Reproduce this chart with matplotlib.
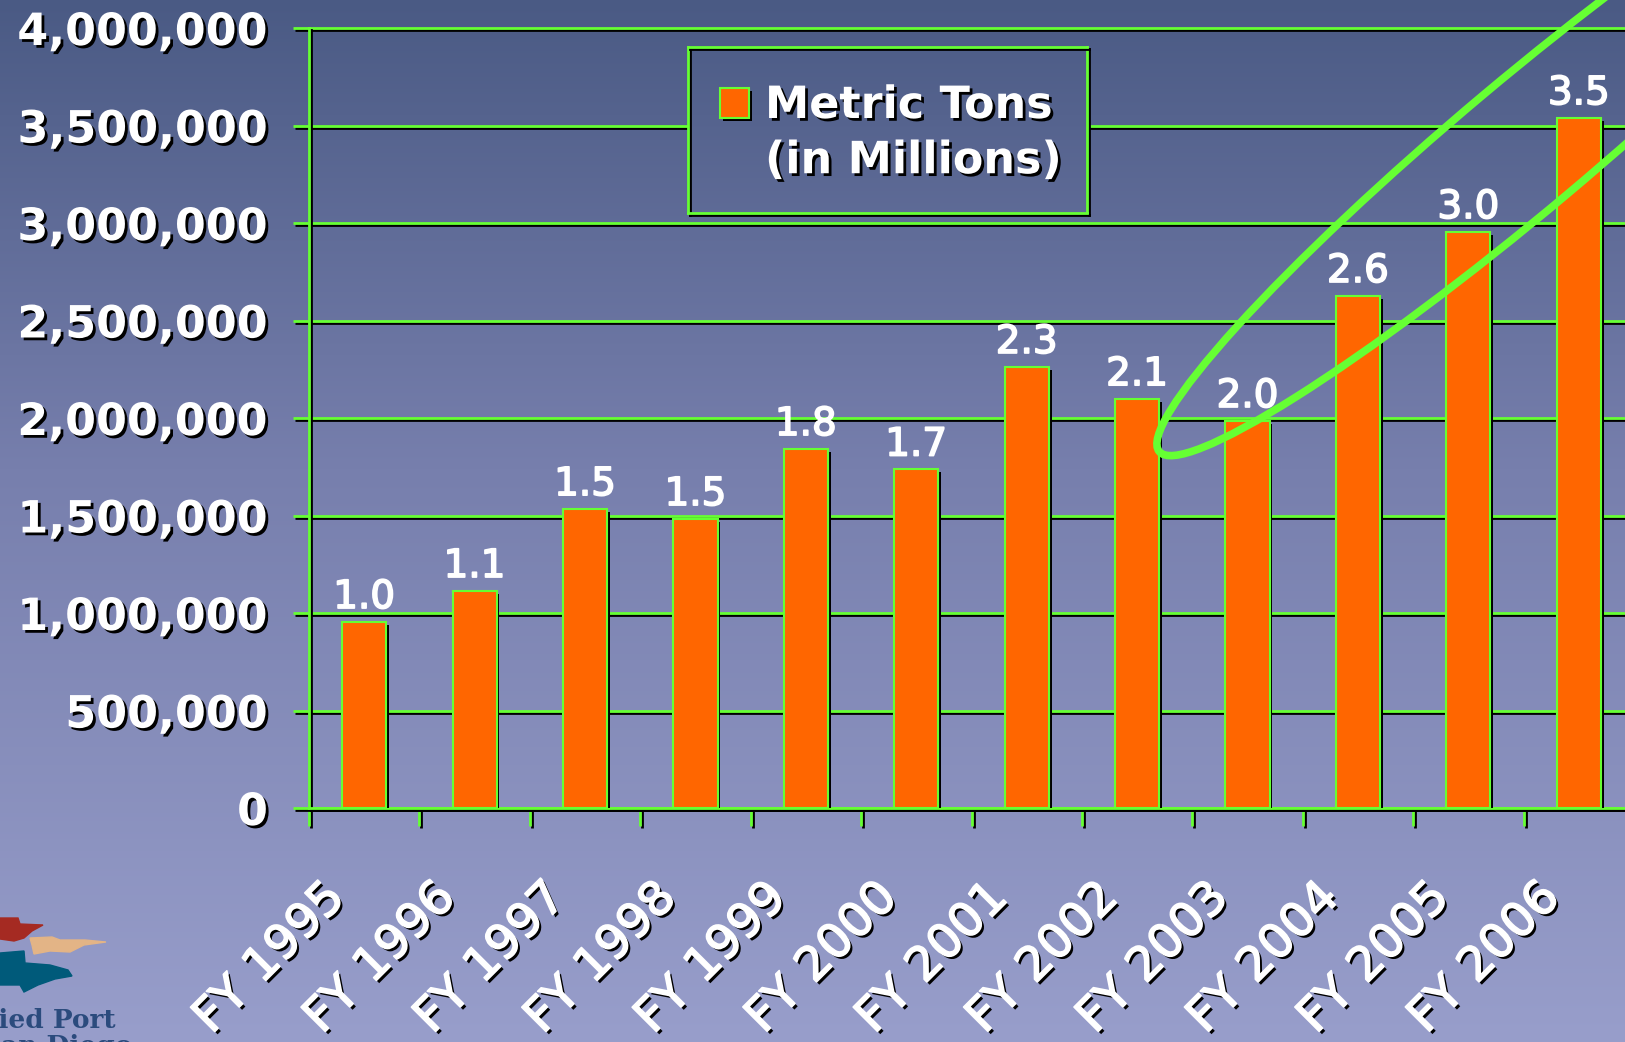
import numpy as np
import matplotlib
matplotlib.use("Agg")
import matplotlib.pyplot as plt
import matplotlib.patheffects as pe
import matplotlib.transforms as mtransforms
from matplotlib.patches import Ellipse, Rectangle, Polygon
from matplotlib.colors import to_rgb

# data
years = ["FY 1995", "FY 1996", "FY 1997", "FY 1998", "FY 1999", "FY 2000",
         "FY 2001", "FY 2002", "FY 2003", "FY 2004", "FY 2005", "FY 2006"]
tons = [954000, 1113000, 1533000, 1482000, 1841000, 1736000,
        2262000, 2097000, 1985000, 2626000, 2954000, 3538000]
value_labels = ["1.0", "1.1", "1.5", "1.5", "1.8", "1.7",
                "2.3", "2.1", "2.0", "2.6", "3.0", "3.5"]
yticks = [0, 500000, 1000000, 1500000, 2000000, 2500000, 3000000, 3500000, 4000000]
legend_label = "Metric Tons\n(in Millions)"

GREEN = "#66ff33"
ORANGE = "#ff6600"
W, H = 1625, 1042

grad_stops = [0.0, 0.45, 1.0]
grad_colors = ["#4a5a84", "#777fad", "#989ecb"]


def gradient(y0, y1):
    rows = np.arange(y0, y1) / H
    cols = np.array([to_rgb(c) for c in grad_colors])
    out = np.stack([np.interp(rows, grad_stops, cols[:, k]) for k in range(3)], axis=1)
    return out[:, None, :]


text_shadow = [pe.withSimplePatchShadow(offset=(2, -2), shadow_rgbFace="black", alpha=1.0)]
heavy_shadow = [pe.SimplePatchShadow(offset=(2, -2), shadow_rgbFace="black", alpha=1.0),
                pe.withStroke(linewidth=1.2, foreground="white")]
line_shadow = [pe.SimpleLineShadow(offset=(1.5, -1.5), shadow_color="black", alpha=1.0), pe.Normal()]

fig = plt.figure(figsize=(W / 100, H / 100), dpi=100)

bg = fig.add_axes([0, 0, 1, 1], zorder=0)
bg.imshow(gradient(0, H), aspect="auto", extent=[0, 1, 0, 1])
bg.axis("off")

ax = fig.add_axes([309 / W, 1 - 808 / H, 1325 / W, 780 / H], zorder=1)
ax.patch.set_alpha(0)

x = np.arange(len(years))
bars = ax.bar(x, tons, width=0.4, color=ORANGE, edgecolor=GREEN, linewidth=1.5, zorder=3)
for b in bars:
    b.set_path_effects([pe.withSimplePatchShadow(offset=(2, -2), shadow_rgbFace="black", alpha=1.0)])

for xi, v, lab in zip(x, tons, value_labels):
    ax.annotate(lab, (xi, v), xytext=(0, 10), textcoords="offset points",
                ha="center", va="baseline", fontsize=28, color="white", zorder=4,
                path_effects=[pe.withStroke(linewidth=1.2, foreground="white")])

ax.set_xlim(-0.5, len(years) - 0.5)
ax.set_ylim(0, 4000000)

ax.set_yticks(yticks, [f"{v:,}" for v in yticks])
ax.tick_params(axis="y", direction="out", length=11.5, width=2, color=GREEN,
               pad=18, labelsize=32, labelcolor="white")
for lbl in ax.get_yticklabels():
    lbl.set_fontweight("bold")
    lbl.set_path_effects(text_shadow)

ax.set_xticks(x, years)
ax.set_xticks(np.arange(-0.5, len(years)), minor=True)
ax.tick_params(axis="x", which="major", length=0, pad=48, labelsize=34,
               labelcolor="white", labelrotation=45)
ax.tick_params(axis="x", which="minor", direction="out", length=13, width=2, color=GREEN)
shift = mtransforms.ScaledTranslation(-42 / 100, 0, fig.dpi_scale_trans)
for lbl in ax.get_xticklabels():
    lbl.set_ha("right")
    lbl.set_va("top")
    lbl.set_rotation_mode("anchor")
    lbl.set_path_effects(heavy_shadow)
    lbl.set_transform(lbl.get_transform() + shift)

for t in ax.yaxis.get_major_ticks() + ax.xaxis.get_minor_ticks():
    t.tick1line.set_path_effects(line_shadow)

ax.set_axisbelow(True)
ax.yaxis.grid(True, color=GREEN, linewidth=2)
for gl in ax.get_ygridlines():
    gl.set_path_effects(line_shadow)
    gl.set_clip_on(False)

for side in ["top", "right"]:
    ax.spines[side].set_visible(False)
for side in ["left", "bottom"]:
    ax.spines[side].set_color(GREEN)
    ax.spines[side].set_linewidth(2)
    ax.spines[side].set_path_effects(line_shadow)

# highlight ellipse around the recent growth
cx, cy = ax.transData.transform((10.51, 3400000))
ring = Ellipse((cx, cy), 954, 130, angle=40, fill=False, edgecolor=GREEN, linewidth=5.5,
               transform=mtransforms.IdentityTransform(), zorder=6, clip_on=False)
ax.add_artist(ring)

# legend box
lx0, ly0, lx1, ly1 = 688, 47, 1087, 213
lw_, lh_ = lx1 - lx0, ly1 - ly0
lax = fig.add_axes([lx0 / W, 1 - ly1 / H, lw_ / W, lh_ / H], zorder=2)
lax.imshow(gradient(ly0, ly1), aspect="auto", extent=[0, 1, 0, 1])
lax.set_xticks([])
lax.set_yticks([])
for s in lax.spines.values():
    s.set_color(GREEN)
    s.set_linewidth(2)
    s.set_path_effects(line_shadow)
lax.add_patch(Rectangle(((720 - lx0) / lw_, (ly1 - 118) / lh_), 29 / lw_, 30 / lh_,
                        transform=lax.transAxes, facecolor=ORANGE, edgecolor=GREEN, linewidth=1.5,
                        path_effects=[pe.withSimplePatchShadow(offset=(2, -2), shadow_rgbFace="black", alpha=1.0)]))
lax.text((765 - lx0) / lw_, (ly1 - 84) / lh_, legend_label,
         transform=lax.transAxes, ha="left", va="top", fontsize=32, fontweight="bold",
         color="white", linespacing=1.36, path_effects=text_shadow)

# partial port logo in the corner
logo = fig.add_axes([0, 0, 1, 1], zorder=3)
logo.set_xlim(0, W)
logo.set_ylim(H, 0)
logo.axis("off")
logo.add_patch(Polygon([(0, 918), (18, 918), (20, 924), (43, 925), (32, 931), (24, 938),
                        (14, 941), (0, 939)], closed=True, color="#a52a22"))
logo.add_patch(Polygon([(30, 938), (52, 937), (60, 940), (85, 940), (106, 942), (84, 945),
                        (70, 952), (50, 951), (34, 954), (32, 945)], closed=True, color="#e3b486"))
logo.add_patch(Polygon([(0, 953), (24, 951), (25, 963), (50, 965), (68, 970), (72, 976),
                        (55, 979), (38, 985), (24, 992), (20, 985), (0, 985)], closed=True,
                       color="#005a7a"))
logo.text(116, 1028, "Unified Port", ha="right", va="baseline", fontsize=19,
          fontweight="bold", family="DejaVu Serif", color="#2b4b7d")
logo.text(-18, 1034, "San Diego", ha="left", va="top", fontsize=19,
          fontweight="bold", family="DejaVu Serif", color="#2b4b7d")

fig.savefig("out.png", dpi=100)
